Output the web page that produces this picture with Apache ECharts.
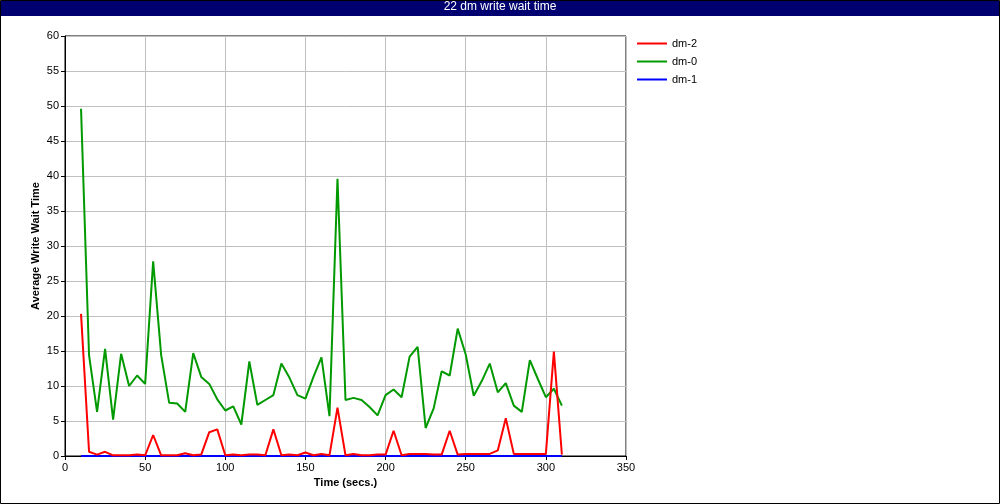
<!DOCTYPE html>
<html><head><meta charset="utf-8">
<script src="https://cdn.jsdelivr.net/npm/echarts@6/dist/echarts.min.js"></script>
<style>html,body{margin:0;padding:0;background:#fff}#c{width:1000px;height:504px}</style>
</head><body><div id="c"></div>
<script>
const titleText = "22 dm write wait time";
const xName = "Time (secs.)";
const yName = "Average Write Wait Time";
const seriesNames = ["dm-2", "dm-0", "dm-1"];
const seriesColors = ["#ff0000", "#009900", "#0000ff"];
const times = [10,15,20,25,30,35,40,45,50,55,60,65,70,75,80,85,90,95,100,105,110,115,120,125,130,135,140,145,150,155,160,165,170,175,180,185,190,195,200,205,210,215,220,225,230,235,240,245,250,255,260,265,270,275,280,285,290,295,300,305,310];
const dm2 = [20.3,0.6,0.2,0.6,0.1,0.1,0.1,0.2,0.1,3.0,0.1,0.1,0.1,0.4,0.1,0.2,3.4,3.8,0.1,0.2,0.1,0.2,0.2,0.1,3.8,0.1,0.2,0.1,0.5,0.1,0.3,0.1,6.9,0.1,0.3,0.1,0.1,0.2,0.2,3.6,0.1,0.3,0.3,0.3,0.2,0.2,3.6,0.2,0.3,0.3,0.3,0.3,0.8,5.4,0.3,0.3,0.3,0.3,0.3,14.9,0.2];
const dm0 = [49.6,14.4,6.3,15.3,5.2,14.6,10.0,11.5,10.3,27.8,14.4,7.6,7.5,6.3,14.7,11.3,10.3,8.1,6.5,7.1,4.5,13.5,7.3,8.0,8.7,13.2,11.2,8.7,8.2,11.3,14.1,5.7,39.6,8.0,8.3,8.0,7.0,5.8,8.7,9.5,8.4,14.2,15.6,4.0,6.8,12.1,11.5,18.2,14.5,8.6,10.7,13.2,9.1,10.4,7.2,6.3,13.7,11.0,8.4,9.6,7.2];
const dm1 = [0,0,0,0,0,0,0,0,0,0,0,0,0,0,0,0,0,0,0,0,0,0,0,0,0,0,0,0,0,0,0,0,0,0,0,0,0,0,0,0,0,0,0,0,0,0,0,0,0,0,0,0,0,0,0,0,0,0,0,0,0];
const seriesData = [dm2, dm0, dm1];

const font = "'Liberation Sans', Arial, sans-serif";
const chart = echarts.init(document.getElementById('c'), null, {renderer: 'canvas'});
chart.setOption({
  animation: false,
  backgroundColor: '#fff',
  textStyle: {fontFamily: font},
  graphic: [
    {type: 'rect', shape: {x: 0.5, y: 0.5, width: 999, height: 503}, style: {fill: 'none', stroke: '#000', lineWidth: 1}, z: 0},
    {type: 'rect', shape: {x: 1, y: 1, width: 998, height: 15}, style: {fill: '#000070'}, z: 1},
    {type: 'text', left: 'center', top: 1, style: {text: titleText, fill: '#fff', font: "12px " + font}, z: 2}
  ],
  legend: {
    orient: 'vertical', left: 632, top: 33, itemGap: 7, itemWidth: 30, itemHeight: 11,
    textStyle: {color: '#000', fontSize: 11, fontFamily: font},
    data: seriesNames.map((n, i) => ({name: n, icon: 'path://M0,0 L30,0 L30,2 L0,2 Z', itemStyle: {color: seriesColors[i]}}))
  },
  grid: {left: 65, right: 374, top: 36, bottom: 48, show: true, borderColor: '#000', borderWidth: 1, containLabel: false},
  xAxis: {
    type: 'value', min: 0, max: 350, interval: 50,
    name: xName, nameLocation: 'middle', nameGap: 21,
    nameTextStyle: {fontWeight: 'bold', fontSize: 11, color: '#000', fontFamily: font},
    axisLine: {lineStyle: {color: '#000', width: 1}},
    axisTick: {show: true, length: 4, lineStyle: {color: '#000'}},
    axisLabel: {color: '#000', fontSize: 11, margin: 6, fontFamily: font},
    splitLine: {show: true, lineStyle: {color: '#c0c0c0', width: 1}}
  },
  yAxis: {
    type: 'value', min: 0, max: 60, interval: 5,
    name: yName, nameLocation: 'middle', nameGap: 24, nameRotate: 90, nameMoveOverlap: false,
    nameTextStyle: {fontWeight: 'bold', fontSize: 11, color: '#000', fontFamily: font},
    axisLine: {show: true, lineStyle: {color: '#000', width: 1}},
    axisTick: {show: true, length: 4, lineStyle: {color: '#000'}},
    axisLabel: {color: '#000', fontSize: 11, margin: 6, fontFamily: font},
    splitLine: {show: true, lineStyle: {color: '#c0c0c0', width: 1}}
  },
  series: seriesNames.map((n, i) => ({
    name: n, type: 'line', showSymbol: false, symbol: 'none',
    data: times.map((t, j) => [t, seriesData[i][j]]),
    lineStyle: {color: seriesColors[i], width: 2},
    itemStyle: {color: seriesColors[i]},
    z: 3 - i
  }))
});
</script></body></html>
